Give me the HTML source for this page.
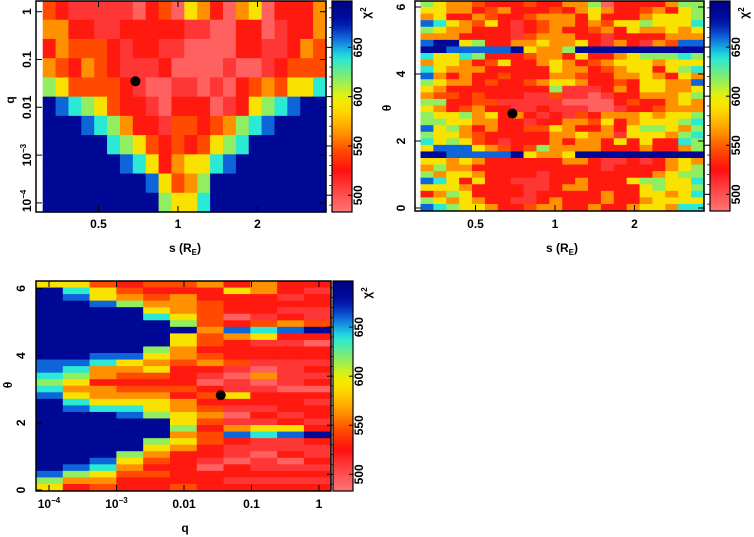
<!DOCTYPE html>
<html><head><meta charset="utf-8"><style>
html,body{margin:0;padding:0;background:#fff;width:754px;height:537px;overflow:hidden}
svg text{font-family:"Liberation Sans",sans-serif;font-weight:bold;font-size:12px;fill:#000}
</style></head><body>
<svg id="fig" width="754" height="537" viewBox="0 0 754 537"></svg>
<script>
// chi2 level (code -> value) lookup
const chi2Levels = [492,510,528,545,562,590,617,638,660,685];
// Panel A: rows = q (top: q=1 ... bottom: q=1e-4), columns = s
const gridSQ = [
"3211111023054204502224",
"4422112222211002201224",
"2433321221100002211243",
"4324321112000010012333",
"6533332100110102343557",
"9876532210222012567899",
"9998764221332346789999",
"9999976532323567999999",
"9999998752455789999999",
"9999999985346999999999",
"9999999996557999999999"];
// Panel B: rows = theta (top 2pi ... bottom 0), columns = s
const gridSTheta = [
"6544322232244602222466","5544234222324542234256","4522432234442522245556","8754352123442435565557",
"6544222123422342544545","4442222134442212222444","8995622445445214214388","9988888954469999999999",
"7557622234425224566676","4554235224542345554555","7544422222544234552567","8424223222443224454254",
"6544232234554223255448","5422222222611124255445","4332322211311012244456","6622331111100002322454",
"5423422112111001223444","6556452421213244454556","6655442212244352455567","8564242233542242566546",
"6554322222445441555467","7565321222424425252276","5888543236444422242246","9988888954459999999999",
"5545422222244211212454","4644222222222212222456","6455422221222222224566","8752522111224222566557",
"5554222211244222256556","2465222212222242255457","6545422112422242245555","8765542234422422455477"];
// Panel C: columns = q (1e-4 ... 1), each string top (theta 2pi) to bottom (0)
const gridQTheta = [
"59999999999988767899999999999865",
"57899999999987654578999999998642",
"35589999999874424457999999987543",
"23469999999854323457899999654322",
"32345799996545323455699965432322",
"32444569554432223244556454222223",
"42233334332342102323432332210222",
"25222028422231011521014821102212",
"44222137512210401221215711011212",
"22121248212211110222125811201212",
"21221139202212120212212921121212"];
const bestFit = {s:0.69, q:0.035, theta:2.82};
const sTicks = [0.5,1,2];
const sTickLabels = ["0.5","1","2"];
const qTicksA = [1,0.1,0.01,0.001,0.0001];
const thetaTicks = [0,2,4,6];
const qTicksC = [0.0001,0.001,0.01,0.1,1];
const cbTicks = [500,550,600,650];

const NS="http://www.w3.org/2000/svg";
const svg=document.getElementById('fig');
function mk(tag,attrs,parent){const e=document.createElementNS(NS,tag);for(const k in attrs)e.setAttribute(k,attrs[k]);(parent||svg).appendChild(e);return e;}
const stops=[[483,[255,117,117]],[500,[255,80,80]],[525,[255,16,16]],[545,[255,74,0]],[562,[255,144,0]],[585,[255,216,0]],[598,[240,240,0]],[617,[144,238,96]],[640,[32,232,224]],[658,[16,112,224]],[675,[0,16,168]],[697,[0,0,128]]];
function cmap(v){if(v<=stops[0][0])return 'rgb('+stops[0][1]+')';for(let i=1;i<stops.length;i++){if(v<=stops[i][0]){const a=stops[i-1],b=stops[i],t=(v-a[0])/(b[0]-a[0]);return 'rgb('+a[1].map((c,j)=>Math.round(c+(b[1][j]-c)*t)).join(',')+')';}}return 'rgb('+stops[stops.length-1][1]+')';}

// axis functions
const sxA=s=>178+79.5*Math.log2(s), sxB=s=>555+79.5*Math.log2(s);
const qyA=q=>11.7-47.8*Math.log10(q);
const thyB=t=>208-33.5*t;
const qxC=q=>319+67.5*Math.log10(q);
const thyC=t=>490-33.6*t;

function heat(grid,x0,y0,w,h,name,colMajor){
  const g=mk('g',{});
  
  
  const nA=grid.length,nB=grid[0].length;
  const nc=colMajor?nA:nB, nr=colMajor?nB:nA;
  const cw=w/nc,rh=h/nr;
  for(let r=0;r<nr;r++)for(let c=0;c<nc;c++){
    const code=colMajor?+grid[c][r]:+grid[r][c];
    const rc=mk('rect',{x:(x0+c*cw).toFixed(2),y:(y0+r*rh).toFixed(2),width:(cw+0.6).toFixed(2),height:(rh+0.6).toFixed(2),fill:cmap(chi2Levels[code])},g);
    
    
  }
}
function frame(x,y,w,h,name){const r=mk('rect',{x,y,width:w,height:h,fill:'none',stroke:'#000','stroke-width':1.5});}
function text(x,y,s,rot,name,anchor){const t=mk('text',{x,y,'text-anchor':anchor||'middle'});if(rot)t.setAttribute('transform','rotate(-90 '+x+' '+y+')');t.innerHTML=s;return t;}
function colorbar(x,y0,y1,name){
  const id='gr'+name;const d=mk('defs',{});const lg=mk('linearGradient',{id,x1:0,y1:1,x2:0,y2:0},d);
  for(let v=483;v<=697;v+=7){mk('stop',{offset:((v-483)/214).toFixed(3),'stop-color':cmap(v)},lg);}
  const r=mk('rect',{x,y:y0,width:20,height:y1-y0,fill:'url(#'+id+')',stroke:'#000','stroke-width':1.2});
  
  const vy=v=>y1-(v-483)*(y1-y0)/214;
  cbTicks.forEach(v=>{mk('line',{x1:x-6,x2:x,y1:vy(v),y2:vy(v),stroke:'#000'});mk('line',{x1:x+16,x2:x+20,y1:vy(v),y2:vy(v),stroke:'#000'});text(x+30,vy(v),String(v),true,'colorbar-tick-label');});
  for(let v=490;v<=690;v+=10){mk('line',{x1:x-3,x2:x,y1:vy(v),y2:vy(v),stroke:'#000','stroke-width':0.7});}
  text(x+38,y0+12,'χ<tspan font-size="8" dy="-4">2</tspan>',true,'colorbar-title');
}
function dot(x,y,name){const c=mk('circle',{cx:x,cy:y,r:5,fill:'#000'});}

// Panel A
heat(gridSQ,42.7,0.5,283.3,211.5,'heatmap-s-q',false);
frame(36,1,290,211,'plot-frame-s-q');
sTicks.forEach((s,i)=>{const x=sxA(s);mk('line',{x1:x,x2:x,y1:212,y2:206,stroke:'#000'});mk('line',{x1:x,x2:x,y1:1,y2:7,stroke:'#000'});text(x,228,sTickLabels[i],false,'x-tick-label');});
qTicksA.forEach(q=>{const y=qyA(q);mk('line',{x1:36,x2:42,y1:y,y2:y,stroke:'#000'});mk('line',{x1:320,x2:326,y1:y,y2:y,stroke:'#000'});});
text(31,qyA(1),'1',true,'y-tick-label');text(31,qyA(0.1),'0.1',true,'y-tick-label');text(31,qyA(0.01),'0.01',true,'y-tick-label');
text(31,qyA(0.001),'10<tspan font-size="8" dy="-5">−3</tspan>',true,'y-tick-label');text(31,qyA(0.0001)-2,'10<tspan font-size="8" dy="-5">−4</tspan>',true,'y-tick-label');
text(14,100,'q',true,'y-axis-title');
text(185,252,'s (R<tspan font-size="8" dy="3">E</tspan><tspan dy="-3">)</tspan>',false,'x-axis-title');
colorbar(332,1,212,'colorbar-a');
dot(sxA(bestFit.s),qyA(bestFit.q),'best-fit-marker-a');

// Panel B
heat(gridSTheta,420.5,0.5,283.5,210,'heatmap-s-theta',false);
frame(415,1,289,210,'plot-frame-s-theta');
sTicks.forEach((s,i)=>{const x=sxB(s);mk('line',{x1:x,x2:x,y1:211,y2:205,stroke:'#000'});text(x,228,sTickLabels[i],false,'x-tick-label');});
thetaTicks.forEach(t=>{const y=thyB(t);mk('line',{x1:415,x2:421,y1:y,y2:y,stroke:'#000'});mk('line',{x1:698,x2:704,y1:y,y2:y,stroke:'#000'});text(405,y,String(t),true,'y-tick-label');});
text(391,108,'θ',true,'y-axis-title');
text(562,252,'s (R<tspan font-size="8" dy="3">E</tspan><tspan dy="-3">)</tspan>',false,'x-axis-title');
colorbar(710,1,211,'colorbar-b');
dot(sxB(bestFit.s),thyB(bestFit.theta),'best-fit-marker-b');

// Panel C
heat(gridQTheta,36,281,294.7,209.5,'heatmap-q-theta',true);
frame(36,281,295,210,'plot-frame-q-theta');
qTicksC.forEach(q=>{const x=qxC(q);mk('line',{x1:x,x2:x,y1:491,y2:485,stroke:'#000'});mk('line',{x1:x,x2:x,y1:281,y2:287,stroke:'#000'});});
text(qxC(0.0001),508,'10<tspan font-size="8" dy="-5">−4</tspan>',false,'x-tick-label');
text(qxC(0.001),508,'10<tspan font-size="8" dy="-5">−3</tspan>',false,'x-tick-label');
text(qxC(0.01),508,'0.01',false,'x-tick-label');text(qxC(0.1),508,'0.1',false,'x-tick-label');text(qxC(1),508,'1',false,'x-tick-label');
thetaTicks.forEach(t=>{const y=thyC(t);mk('line',{x1:36,x2:42,y1:y,y2:y,stroke:'#000'});text(25,y,String(t),true,'y-tick-label');});
text(12,385,'θ',true,'y-axis-title');
text(185,532,'q',false,'x-axis-title');
colorbar(333,281,491,'colorbar-c');
dot(qxC(bestFit.q),thyC(bestFit.theta),'best-fit-marker-c');
</script>
</body></html>
